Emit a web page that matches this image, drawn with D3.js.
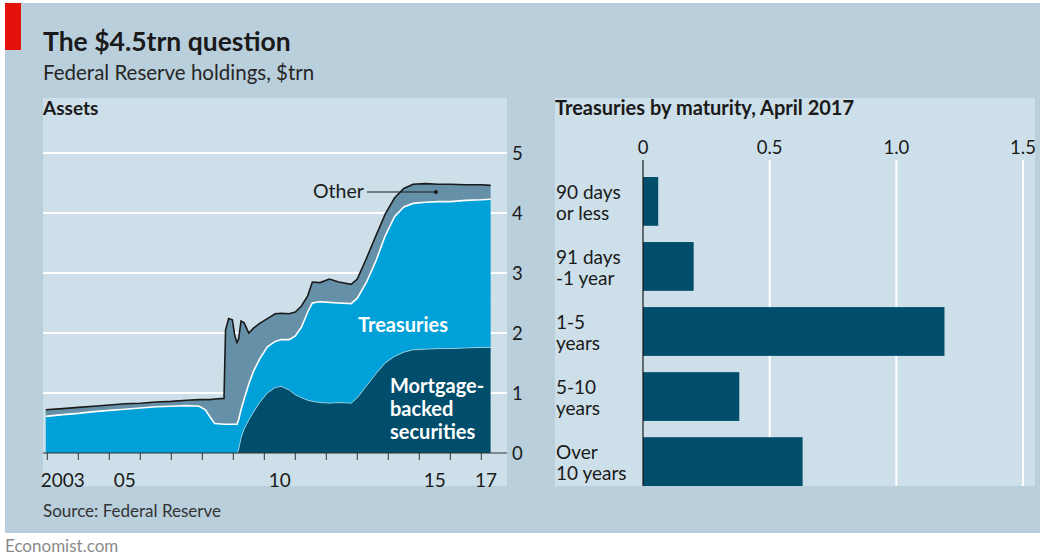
<!DOCTYPE html>
<meta charset="utf-8">
<style>
body { margin: 0; background: #fff; font-family: 'Lato', sans-serif; }
text { font-family: 'Lato', sans-serif; }
</style>
<body>
<script src="https://d3js.org/d3.v7.min.js"></script>
<script>
// Fed balance sheet, $trn
var dates = [2002.95, 2003.5, 2004.0, 2004.5, 2005.0, 2005.5, 2006.0, 2006.5, 2007.0, 2007.5,
  2007.9, 2008.1, 2008.25, 2008.4, 2008.7, 2008.75, 2008.85, 2008.97, 2009.05, 2009.12,
  2009.17, 2009.25, 2009.35, 2009.5, 2009.65, 2009.85, 2010.1, 2010.35, 2010.55, 2010.8,
  2011.0, 2011.2, 2011.4, 2011.55, 2011.8, 2012.1, 2012.4, 2012.8, 2013.0, 2013.3,
  2013.6, 2013.9, 2014.2, 2014.5, 2014.8, 2015.2, 2015.6, 2016.0, 2016.5, 2017.0, 2017.3];
var mbs = [0, 0, 0, 0, 0, 0, 0, 0, 0, 0,
  0, 0, 0, 0, 0, 0, 0, 0, 0, 0,
  0.05, 0.25, 0.40, 0.55, 0.68, 0.84, 1.00, 1.09, 1.11, 1.05,
  0.97, 0.92, 0.88, 0.86, 0.84, 0.83, 0.84, 0.83, 0.92, 1.12,
  1.32, 1.50, 1.61, 1.68, 1.72, 1.73, 1.74, 1.74, 1.75, 1.76, 1.76];
var treasuries = [0.61, 0.64, 0.66, 0.69, 0.71, 0.73, 0.75, 0.77, 0.78, 0.79,
  0.78, 0.72, 0.60, 0.49, 0.48, 0.48, 0.48, 0.48, 0.48, 0.48,
  0.50, 0.47, 0.50, 0.60, 0.68, 0.73, 0.77, 0.77, 0.78, 0.84,
  0.98, 1.18, 1.47, 1.64, 1.68, 1.68, 1.66, 1.66, 1.66, 1.73,
  1.88, 2.12, 2.33, 2.42, 2.44, 2.45, 2.45, 2.45, 2.46, 2.46, 2.47];
var other = [0.11, 0.10, 0.10, 0.09, 0.09, 0.09, 0.08, 0.08, 0.08, 0.09,
  0.11, 0.17, 0.29, 0.41, 0.43, 1.57, 1.76, 1.74, 1.47, 1.36,
  1.35, 1.48, 1.27, 0.85, 0.72, 0.59, 0.47, 0.46, 0.44, 0.43,
  0.40, 0.35, 0.27, 0.35, 0.32, 0.39, 0.35, 0.32, 0.32, 0.40,
  0.42, 0.36, 0.31, 0.31, 0.32, 0.31, 0.29, 0.29, 0.26, 0.25, 0.23];

var yearTicks = d3.range(2003, 2018);
var yearLabels = [[2003, "2003"], [2005, "05"], [2010, "10"], [2015, "15"], [2017, "17"]];
var assetTicks = [0, 1, 2, 3, 4, 5];

var maturities = ["90 days|or less", "91 days|-1 year", "1-5|years", "5-10|years", "Over|10 years"];
var maturityValues = [0.06, 0.20, 1.19, 0.38, 0.63];
var maturityTicks = [0, 0.5, 1.0, 1.5];

var W = 1045, H = 557;
var svg = d3.select("body").append("svg").attr("width", W).attr("height", H);

// backgrounds
svg.append("rect").attr("x", 5).attr("y", 3).attr("width", 1035).attr("height", 530).attr("fill", "#b9cfdc");
svg.append("rect").attr("x", 5).attr("y", 3).attr("width", 16).attr("height", 47).attr("fill", "#e3120b");
svg.append("rect").attr("x", 43).attr("y", 98).attr("width", 464).attr("height", 388).attr("fill", "#cddfe8");
svg.append("rect").attr("x", 555).attr("y", 98).attr("width", 480).attr("height", 388).attr("fill", "#cddfe8");

svg.append("text").attr("x", 43).attr("y", 51).text("The $4.5trn question")
  .attr("font-size", 26.5).attr("font-weight", "bold").attr("fill", "#1a1a1a");
svg.append("text").attr("x", 43).attr("y", 80).text("Federal Reserve holdings, $trn")
  .attr("font-size", 20.5).attr("fill", "#262626");
svg.append("text").attr("x", 43).attr("y", 115).text("Assets")
  .attr("font-size", 19).attr("font-weight", "bold").attr("fill", "#1a1a1a");
svg.append("text").attr("x", 555).attr("y", 115).text("Treasuries by maturity, April 2017")
  .attr("font-size", 20).attr("font-weight", "bold").attr("fill", "#1a1a1a");
svg.append("text").attr("x", 43).attr("y", 517).text("Source: Federal Reserve")
  .attr("font-size", 17).attr("fill", "#333");
svg.append("text").attr("x", 5).attr("y", 552).text("Economist.com")
  .attr("font-size", 17).attr("fill", "#8a8a8a");

// ---- left: stacked area ----
var x = d3.scaleLinear().domain([2003, 2017]).range([47.3, 481.3]);
var y = d3.scaleLinear().domain([0, 5]).range([453, 153]);

var rows = dates.map(function(d, i) {
  return { date: d, mbs: mbs[i], treasuries: treasuries[i], other: other[i] };
});
var stack = d3.stack().keys(["mbs", "treasuries", "other"]);
var series = stack(rows);
var colors = { mbs: "#004e6b", treasuries: "#00a1d8", other: "#6590a8" };

var left = svg.append("g");
left.selectAll(".grid").data(assetTicks.filter(function(d) { return d > 0; })).join("line")
  .attr("x1", 43).attr("x2", 507).attr("y1", function(d) { return y(d); }).attr("y2", function(d) { return y(d); })
  .attr("stroke", "#fff").attr("stroke-width", 2);

var area = d3.area().x(function(d) { return x(d.data.date); })
  .y0(function(d) { return y(d[0]); }).y1(function(d) { return y(d[1]); });
left.selectAll(".layer").data(series).join("path")
  .attr("d", area).attr("fill", function(s) { return colors[s.key]; });

var topLine = d3.line().x(function(d) { return x(d.data.date); }).y(function(d) { return y(d[1]); });
left.append("path").datum(series[0].filter(function(d, i) { return i >= 19; }))
  .attr("d", topLine).attr("fill", "none").attr("stroke", "#fff").attr("stroke-opacity", 0.5).attr("stroke-width", 1);
left.append("path").datum(series[1]).attr("d", topLine)
  .attr("fill", "none").attr("stroke", "#fff").attr("stroke-width", 1.6);
left.append("path").datum(series[2]).attr("d", topLine)
  .attr("fill", "none").attr("stroke", "#1a1a1a").attr("stroke-width", 1.6);

// axis line and ticks
left.append("line").attr("x1", 43).attr("x2", 507).attr("y1", y(0)).attr("y2", y(0))
  .attr("stroke", "#333").attr("stroke-width", 1.2);
left.selectAll(".xt").data(yearTicks).join("line")
  .attr("x1", function(d) { return x(d); }).attr("x2", function(d) { return x(d); })
  .attr("y1", y(0)).attr("y2", y(0) + 7).attr("stroke", "#333").attr("stroke-width", 1);
left.selectAll(".xl").data(yearLabels).join("text")
  .attr("x", function(d) { return d[0] === 2017 ? (x(2017) + x(2017.3)) / 2 : x(d[0] + 0.5); })
  .attr("y", 487).attr("text-anchor", "middle").attr("font-size", 19).attr("fill", "#1a1a1a")
  .text(function(d) { return d[1]; });
left.selectAll(".yl").data(assetTicks).join("text")
  .attr("x", 512).attr("y", function(d) { return y(d) + 7; })
  .attr("font-size", 18.5).attr("fill", "#1a1a1a").text(function(d) { return d; });

// labels
left.append("text").attr("x", 313).attr("y", 198).text("Other").attr("font-size", 19.5).attr("fill", "#1a1a1a");
left.append("line").attr("x1", 367).attr("x2", 436).attr("y1", 192).attr("y2", 192).attr("stroke", "#1a1a1a").attr("stroke-width", 1);
left.append("circle").attr("cx", 436).attr("cy", 192).attr("r", 2).attr("fill", "#1a1a1a");
left.append("text").attr("x", 358).attr("y", 332).text("Treasuries")
  .attr("font-size", 20).attr("font-weight", "bold").attr("fill", "#fff");
["Mortgage-", "backed", "securities"].forEach(function(t, i) {
  left.append("text").attr("x", 390).attr("y", 393 + i * 23).text(t)
    .attr("font-size", 20).attr("font-weight", "bold").attr("fill", "#fff");
});

// ---- right: bars ----
var xb = d3.scaleLinear().domain([0, 1.5]).range([643, 1023]);
var yb = d3.scaleBand().domain(maturities).range([177, 486]).paddingInner(0.25).paddingOuter(0);

var right = svg.append("g");
right.selectAll(".vg").data(maturityTicks.filter(function(d) { return d > 0; })).join("line")
  .attr("x1", function(d) { return xb(d); }).attr("x2", function(d) { return xb(d); })
  .attr("y1", 160).attr("y2", 486).attr("stroke", "#fff").attr("stroke-width", 2);
right.selectAll(".tl").data(maturityTicks).join("text")
  .attr("x", function(d) { return xb(d); }).attr("y", 154).attr("text-anchor", "middle")
  .attr("font-size", 18.5).attr("fill", "#1a1a1a").text(function(d) { return d === 0 ? "0" : d3.format(".1f")(d); });
right.selectAll(".bar").data(maturities).join("rect")
  .attr("x", xb(0)).attr("y", function(d) { return yb(d); })
  .attr("width", function(d, i) { return xb(maturityValues[i]) - xb(0); })
  .attr("height", yb.bandwidth()).attr("fill", "#004e6b");
right.append("line").attr("x1", xb(0)).attr("x2", xb(0)).attr("y1", 160).attr("y2", 486)
  .attr("stroke", "#1a1a1a").attr("stroke-width", 1.2);
maturities.forEach(function(m) {
  m.split("|").forEach(function(t, j) {
    right.append("text").attr("x", 556).attr("y", yb(m) + 22 + j * 21).text(t)
      .attr("font-size", 19).attr("fill", "#1a1a1a");
  });
});
</script>
</body>
